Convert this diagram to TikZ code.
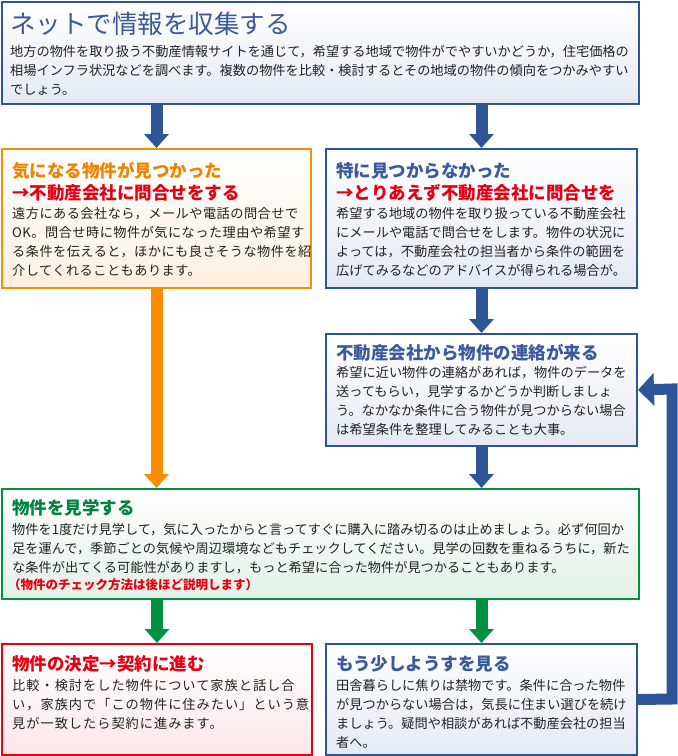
\documentclass[tikz,border=0pt]{standalone}
\usepackage{fontspec}
\setmainfont{Noto Sans CJK JP}
\usetikzlibrary{arrows.meta,backgrounds}
\definecolor{blueB}{RGB}{46,85,151}
\definecolor{blueT}{RGB}{58,90,156}
\definecolor{blueF}{RGB}{228,233,243}
\definecolor{orangeB}{RGB}{243,146,0}
\definecolor{orangeT}{RGB}{240,131,0}
\definecolor{orangeF}{RGB}{253,239,225}
\definecolor{orangeA}{RGB}{250,140,0}
\definecolor{redB}{RGB}{230,0,18}
\definecolor{redF}{RGB}{252,230,234}
\definecolor{greenB}{RGB}{0,145,64}
\definecolor{greenT}{RGB}{0,131,62}
\definecolor{greenF}{RGB}{226,240,230}
\definecolor{textc}{RGB}{34,34,34}
\tikzset{
  boxb/.style={draw=#1, line width=2pt, rectangle, inner sep=0, anchor=north west},
  bluebox/.style={boxb=blueB, top color=white, bottom color=blueF},
  orangebox/.style={boxb=orangeB, top color=white, bottom color=orangeF},
  greenbox/.style={boxb=greenB, top color=white, bottom color=greenF},
  redbox/.style={boxb=redB, top color=white, bottom color=redF},
  ttl/.style={anchor=base west, inner sep=0, font=\bfseries\fontsize{17.5}{22}\selectfont},
  body/.style={anchor=base west, inner sep=0, align=left, text=textc, font=\fontsize{13.2}{19.3}\selectfont},
  downarr/.style={draw=#1, line width=12pt, -{Triangle[width=24pt,length=14pt,fill=#1]}},
}
\begin{document}
\begin{tikzpicture}[x=1pt,y=-1pt]
\useasboundingbox (0,0) rectangle (678,756);
% boxes
\node[bluebox, minimum width=637pt, minimum height=102pt] (top) at (1,1) {};
\node[orangebox, minimum width=309pt, minimum height=139pt] (left) at (1,148) {};
\node[bluebox, minimum width=311pt, minimum height=139pt] (right) at (325,148) {};
\node[bluebox, minimum width=311pt, minimum height=112pt] (mid) at (325,333) {};
\node[greenbox, minimum width=637pt, minimum height=110pt] (green) at (1,488) {};
\node[redbox, minimum width=310pt, minimum height=111pt] (red) at (1,643) {};
\node[bluebox, minimum width=311pt, minimum height=111pt] (blue2) at (325,643) {};
% arrows
\begin{scope}[on background layer]
\draw[downarr=blueB] (left.north |- top.south) -- (left.north);
\draw[downarr=blueB] (right.north |- top.south) -- (right.north);
\draw[downarr=orangeA] (left.south) -- (left.south |- green.north);
\draw[downarr=blueB] (right.south) -- (mid.north);
\draw[downarr=blueB] (mid.south) -- (mid.south |- green.north);
\draw[downarr=greenB] (red.north |- green.south) -- (red.north);
\draw[downarr=greenB] (blue2.north |- green.south) -- (blue2.north);
\end{scope}
\coordinate (fb1) at (672,699);
\coordinate (fb2) at (672,389);
\draw[draw=blueB, line width=11pt, line join=miter, -{Triangle[width=32pt,length=16pt,fill=blueB]}]
  (blue2.east) -- (fb1) -- (fb2) -- (mid.east);
% top box text (multi-line nodes: base = last line)
\node[anchor=base west, inner sep=0, text=blueT, font=\fontsize{25.5}{30}\selectfont] (topt) at (10,33) {ネットで情報を収集する};
\node[body] (topb) at (10,94.6) {地方の物件を取り扱う不動産情報サイトを通じて，希望する地域で物件がでやすいかどうか，住宅価格の\\相場インフラ状況などを調べます。複数の物件を比較・検討するとその地域の物件の傾向をつかみやすい\\でしょう。};
% left box
\node[ttl, text=orangeT] (leftt1) at (12,177) {気になる物件が見つかった};
\node[ttl, text=redB] (leftt2) at (12,199) {→不動産会社に問合せをする};
\node[body, font=\fontsize{13.2}{19.3}\addfontfeatures{LetterSpace=3.5}] (leftb) at (12,275.9) {遠方にある会社なら，メールや電話の問合せで\\OK。問合せ時に物件が気になった理由や希望す\\る条件を伝えると，ほかにも良さそうな物件を紹\\介してくれることもあります。};
% right box
\node[ttl, text=blueT] (rightt1) at (336,177) {特に見つからなかった};
\node[ttl, text=redB] (rightt2) at (336,199) {→とりあえず不動産会社に問合せを};
\node[body] (rightb) at (336,275.9) {希望する地域の物件を取り扱っている不動産会社\\にメールや電話で問合せをします。物件の状況に\\よっては，不動産会社の担当者から条件の範囲を\\広げてみるなどのアドバイスが得られる場合が。};
% mid box
\node[ttl, text=blueT] (midt) at (336,359) {不動産会社から物件の連絡が来る};
\node[body] (midb) at (336,434.9) {希望に近い物件の連絡があれば，物件のデータを\\送ってもらい，見学するかどうか判断しましょ\\う。なかなか条件に合う物件が見つからない場合\\は希望条件を整理してみることも大事。};
% green box
\node[ttl, text=greenT] (greent) at (12,514) {物件を見学する};
\node[body] (greenb) at (12,572.6) {物件を1度だけ見学して，気に入ったからと言ってすぐに購入に踏み切るのは止めましょう。必ず何回か\\足を運んで，季節ごとの気候や周辺環境などもチェックしてください。見学の回数を重ねるうちに，新た\\な条件が出てくる可能性がありますし，もっと希望に合った物件が見つかることもあります。};
\node[anchor=base west, inner sep=0, text=redB, font=\bfseries\fontsize{12.5}{15}\selectfont] (greenn) at (8,589) {（物件のチェック方法は後ほど説明します）};
% red box
\node[ttl, text=redB] (redt) at (12,670) {物件の決定→契約に進む};
\node[body, font=\fontsize{13.2}{19.3}\addfontfeatures{LetterSpace=7.5}] (redb) at (12,728.6) {比較・検討をした物件について家族と話し合\\い，家族内で「この物件に住みたい」という意\\見が一致したら契約に進みます。};
% blue2 box
\node[ttl, text=blueT] (blue2t) at (336,670) {もう少しようすを見る};
\node[body] (blue2b) at (336,747.9) {田舎暮らしに焦りは禁物です。条件に合った物件\\が見つからない場合は，気長に住まい選びを続け\\ましょう。疑問や相談があれば不動産会社の担当\\者へ。};
\end{tikzpicture}
\end{document}
